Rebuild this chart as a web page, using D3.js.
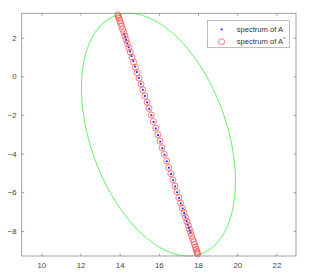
<!DOCTYPE html>
<html>
<head>
<meta charset="utf-8">
<script src="https://cdn.jsdelivr.net/npm/d3@7"></script>
<style>
  body { margin: 0; background: #fff; }
  svg { display: block; font-family: 'Liberation Sans', Arial, sans-serif; }
</style>
</head>
<body>
<svg id="chart"></svg>
<script>
// spectrum of A* (red circles)
const starRe = [13.91, 13.93, 13.97, 14.01, 14.05, 14.10, 14.15, 14.21, 14.27, 14.33, 14.39, 14.47, 14.54, 14.63,
  14.71, 14.80, 14.89, 14.99, 15.09, 15.18, 15.29, 15.40, 15.50, 15.61, 15.72, 15.84, 15.95, 16.06, 16.17, 16.28,
  16.40, 16.51, 16.61, 16.72, 16.82, 16.92, 17.02, 17.11, 17.20, 17.28, 17.36, 17.43, 17.50, 17.56, 17.62, 17.67,
  17.73, 17.78, 17.82, 17.87, 17.90, 17.94, 17.96, 17.98]
const starIm = [3.18, 3.10, 3.00, 2.88, 2.75, 2.60, 2.44, 2.27, 2.09, 1.90, 1.70, 1.48, 1.25, 1.00,
  0.74, 0.47, 0.19, -0.10, -0.40, -0.70, -1.02, -1.34, -1.66, -2.00, -2.34, -2.68, -3.02, -3.36, -3.70, -4.04,
  -4.38, -4.72, -5.04, -5.36, -5.68, -5.98, -6.28, -6.56, -6.82, -7.07, -7.30, -7.52, -7.72, -7.91, -8.09, -8.26,
  -8.42, -8.57, -8.71, -8.84, -8.96, -9.06, -9.14, -9.20]

// spectrum of A (blue dots)
const aRe = [14.23, 14.28, 14.33, 14.39, 14.46, 14.53, 14.61, 14.70, 14.79, 14.88, 14.98, 15.08, 15.18, 15.29,
  15.40, 15.51, 15.62, 15.73, 15.84, 15.96, 16.07, 16.18, 16.29, 16.40, 16.51, 16.62, 16.73, 16.83, 16.93, 17.03,
  17.12, 17.21, 17.29, 17.36, 17.42, 17.48, 17.54, 17.58, 17.62]
const aIm = [2.20, 2.05, 1.88, 1.70, 1.50, 1.28, 1.04, 0.78, 0.50, 0.22, -0.08, -0.38, -0.70, -1.02,
  -1.35, -1.68, -2.02, -2.36, -2.70, -3.04, -3.38, -3.72, -4.06, -4.40, -4.73, -5.06, -5.38, -5.70, -6.00, -6.30,
  -6.58, -6.84, -7.08, -7.30, -7.50, -7.68, -7.84, -7.98, -8.10]

// green ellipse: x = cx + ax*cos(t), y = cy + ay*cos(t + phase)
const ellipse = { cx: 15.98, cy: -3.02, ax: 3.93, ay: 6.28, phase: 1.966 }

const xTicks = [10, 12, 14, 16, 18, 20, 22]
const yTicks = [-8, -6, -4, -2, 0, 2]
const xDomain = [9, 23]
const yDomain = [-9.3, 3.26]

const dimension = { width: 311, height: 278 }
const margin = { top: 13.3, right: 15, bottom: 22, left: 21.7 }
const width = dimension.width - margin.left - margin.right
const height = dimension.height - margin.top - margin.bottom

const axisColor = '#8a8a8a'
const textColor = '#444'

const svgElement = d3.select('#chart')
  .attr('width', dimension.width)
  .attr('height', dimension.height)

const svg = svgElement.append('g')
  .attr('transform', `translate(${margin.left}, ${margin.top})`)

const xScale = d3.scaleLinear().domain(xDomain).range([0, width])
const yScale = d3.scaleLinear().domain(yDomain).range([height, 0])

// ellipse
const ts = d3.range(0, 2 * Math.PI + 0.001, Math.PI / 180)
const ellipsePts = ts.map((t) => [
  ellipse.cx + ellipse.ax * Math.cos(t),
  ellipse.cy + ellipse.ay * Math.cos(t + ellipse.phase)
])
svg.append('path')
  .datum(ellipsePts)
  .attr('fill', 'none')
  .attr('stroke', '#33ee33')
  .attr('stroke-width', 0.8)
  .attr('d', d3.line().x((d) => xScale(d[0])).y((d) => yScale(d[1])))

// spectrum of A (dots)
svg.selectAll('.dotA')
  .data(aRe.map((r, i) => [r, aIm[i]]))
  .enter()
  .append('rect')
  .attr('x', (d) => xScale(d[0]) - 0.9)
  .attr('y', (d) => yScale(d[1]) - 0.9)
  .attr('width', 1.8)
  .attr('height', 1.8)
  .attr('fill', '#1a1aff')

// spectrum of A* (circles)
svg.selectAll('.circStar')
  .data(starRe.map((r, i) => [r, starIm[i]]))
  .enter()
  .append('circle')
  .attr('cx', (d) => xScale(d[0]))
  .attr('cy', (d) => yScale(d[1]))
  .attr('r', 3)
  .attr('fill', 'none')
  .attr('stroke', '#ff4040')
  .attr('stroke-width', 0.7)

// axes box
svg.append('rect')
  .attr('width', width)
  .attr('height', height)
  .attr('fill', 'none')
  .attr('stroke', axisColor)
  .attr('stroke-width', 0.8)

const styleAxis = (g) => {
  g.select('.domain').remove()
  g.selectAll('.tick line').attr('stroke', axisColor).attr('stroke-width', 0.8)
  g.selectAll('.tick text').attr('fill', textColor).attr('font-size', 7.8)
}

svg.append('g')
  .attr('transform', `translate(0, ${height})`)
  .call(d3.axisBottom(xScale).tickValues(xTicks).tickSize(-2.5).tickPadding(6).tickFormat(d3.format('d')))
  .call(styleAxis)

svg.append('g')
  .call(d3.axisTop(xScale).tickValues(xTicks).tickSize(-2.5).tickFormat(''))
  .call(styleAxis)

svg.append('g')
  .call(d3.axisLeft(yScale).tickValues(yTicks).tickSize(-2.5).tickPadding(5).tickFormat(d3.format('d')))
  .call(styleAxis)

svg.append('g')
  .attr('transform', `translate(${width}, 0)`)
  .call(d3.axisRight(yScale).tickValues(yTicks).tickSize(-2.5).tickFormat(''))
  .call(styleAxis)

// legend
const legend = svgElement.append('g').attr('transform', 'translate(207.3, 20.7)')
legend.append('rect')
  .attr('width', 82)
  .attr('height', 27)
  .attr('fill', '#fff')
  .attr('stroke', '#9a9a9a')
  .attr('stroke-width', 0.7)
legend.append('rect')
  .attr('x', 13.5).attr('y', 7.8)
  .attr('width', 1.8).attr('height', 1.8)
  .attr('fill', '#1a1aff')
legend.append('circle')
  .attr('cx', 14.4).attr('cy', 21)
  .attr('r', 3)
  .attr('fill', 'none')
  .attr('stroke', '#ff4040')
  .attr('stroke-width', 0.7)
legend.append('text')
  .attr('x', 29.4).attr('y', 11.4)
  .attr('font-size', 7.6)
  .attr('fill', '#333')
  .text('spectrum of A')
const t2 = legend.append('text')
  .attr('x', 29.4).attr('y', 23.8)
  .attr('font-size', 7.6)
  .attr('fill', '#333')
t2.append('tspan').text('spectrum of A')
t2.append('tspan').attr('font-size', 5).attr('dy', -3).text('*')
</script>
</body>
</html>
